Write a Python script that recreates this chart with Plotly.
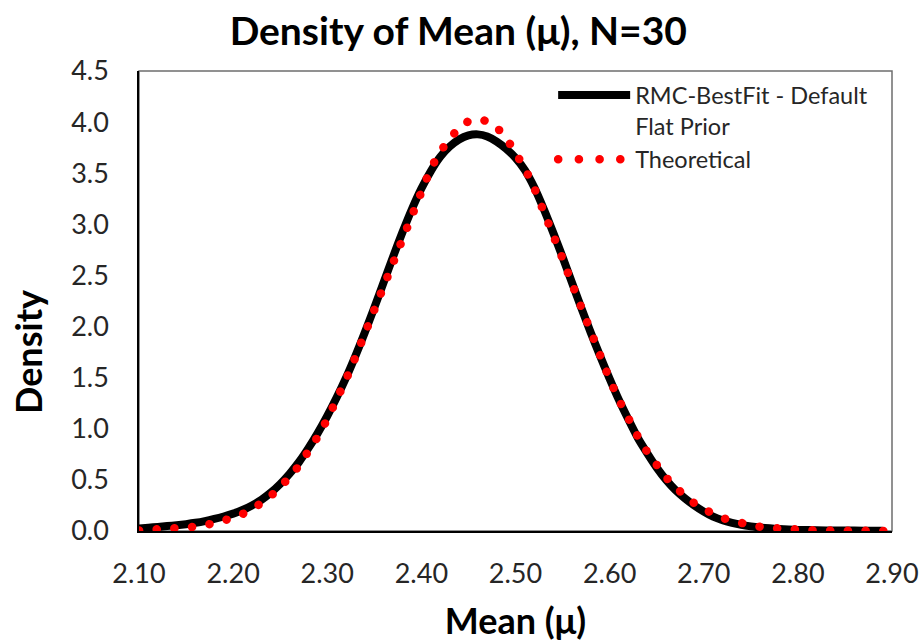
import plotly.graph_objects as go

# Mean values (μ) on the horizontal axis
mean_rmc = [2.10, 2.11, 2.12, 2.13, 2.14, 2.15, 2.16, 2.17, 2.18, 2.19,
            2.20, 2.21, 2.22, 2.23, 2.24, 2.25, 2.26, 2.27, 2.28, 2.29,
            2.30, 2.31, 2.32, 2.33, 2.34, 2.35, 2.36, 2.37, 2.38, 2.39,
            2.40, 2.41, 2.42, 2.43, 2.44, 2.45, 2.46, 2.47, 2.48, 2.49,
            2.50, 2.51, 2.52, 2.53, 2.54, 2.55, 2.56, 2.57, 2.58, 2.59,
            2.60, 2.61, 2.62, 2.63, 2.64, 2.65, 2.66, 2.67, 2.68, 2.69,
            2.70, 2.71, 2.72, 2.73, 2.74, 2.75, 2.76, 2.77, 2.78, 2.79,
            2.80, 2.82, 2.84, 2.86, 2.88, 2.89]

# RMC-BestFit posterior density (default flat prior)
density_rmc = [0.025, 0.032, 0.040, 0.048, 0.057, 0.067, 0.080, 0.097, 0.118, 0.142,
               0.170, 0.205, 0.250, 0.305, 0.375, 0.460, 0.560, 0.675, 0.810, 0.960,
               1.125, 1.305, 1.500, 1.715, 1.945, 2.185, 2.435, 2.685, 2.925, 3.150,
               3.350, 3.520, 3.660, 3.760, 3.830, 3.870, 3.880, 3.860, 3.810, 3.740,
               3.650, 3.530, 3.360, 3.150, 2.920, 2.680, 2.430, 2.180, 1.940, 1.710,
               1.490, 1.280, 1.090, 0.910, 0.760, 0.620, 0.500, 0.400, 0.320, 0.250,
               0.190, 0.140, 0.105, 0.080, 0.060, 0.045, 0.034, 0.026, 0.020, 0.015,
               0.011, 0.007, 0.005, 0.004, 0.003, 0.002]

mean_theory = [2.10, 2.11, 2.12, 2.13, 2.14, 2.15, 2.16, 2.17, 2.18, 2.19,
               2.20, 2.21, 2.22, 2.23, 2.24, 2.25, 2.26, 2.27, 2.28, 2.29,
               2.30, 2.31, 2.32, 2.33, 2.34, 2.35, 2.36, 2.37, 2.38, 2.39,
               2.40, 2.41, 2.42, 2.43, 2.44, 2.45, 2.46, 2.47, 2.48, 2.49,
               2.50, 2.51, 2.52, 2.53, 2.54, 2.55, 2.56, 2.57, 2.58, 2.59,
               2.60, 2.61, 2.62, 2.63, 2.64, 2.65, 2.66, 2.67, 2.68, 2.69,
               2.70, 2.71, 2.72, 2.73, 2.74, 2.75, 2.76, 2.77, 2.78, 2.79,
               2.80, 2.81, 2.82, 2.83, 2.84, 2.85, 2.86, 2.87, 2.88, 2.89, 2.90]

# Theoretical density of the mean
density_theory = [0.005, 0.008, 0.011, 0.016, 0.022, 0.030, 0.041, 0.055, 0.074, 0.098,
                  0.128, 0.166, 0.213, 0.271, 0.341, 0.425, 0.524, 0.639, 0.772, 0.923,
                  1.092, 1.279, 1.483, 1.702, 1.933, 2.174, 2.420, 2.666, 2.907, 3.139,
                  3.354, 3.547, 3.714, 3.849, 3.949, 4.009, 4.030, 4.009, 3.949, 3.849,
                  3.714, 3.547, 3.354, 3.139, 2.907, 2.666, 2.420, 2.174, 1.933, 1.702,
                  1.483, 1.279, 1.092, 0.923, 0.772, 0.639, 0.524, 0.425, 0.341, 0.271,
                  0.213, 0.166, 0.128, 0.098, 0.074, 0.055, 0.041, 0.030, 0.022, 0.016,
                  0.011, 0.008, 0.005, 0.004, 0.003, 0.002, 0.001, 0.001, 0.001, 0.000, 0.000]

x_ticks = [2.10, 2.20, 2.30, 2.40, 2.50, 2.60, 2.70, 2.80, 2.90]
y_ticks = [0.0, 0.5, 1.0, 1.5, 2.0, 2.5, 3.0, 3.5, 4.0, 4.5]

FONT = "Lato"
TEXT = "#262626"

fig = go.Figure()
fig.add_trace(go.Scatter(
    x=mean_rmc, y=density_rmc, mode="lines",
    name="RMC-BestFit - Default<br>Flat Prior",
    line=dict(color="black", width=8, shape="spline", smoothing=0.6),
))
fig.add_trace(go.Scatter(
    x=mean_theory, y=density_theory, mode="lines",
    name="Theoretical",
    line=dict(color="#FF0000", width=8.5, dash="dot"),
))

fig.update_layout(
    width=924, height=642,
    margin=dict(l=139, r=32, t=71, b=111, autoexpand=False),
    paper_bgcolor="white", plot_bgcolor="white",
    title=dict(text="<b>Density of Mean (μ), N=30</b>", x=0.496, xanchor="center",
               y=0.951, yanchor="middle",
               font=dict(family=FONT, size=39, color="black")),
    font=dict(family=FONT, color=TEXT),
    showlegend=True,
    legend=dict(
        xref="paper", yref="paper",
        x=0.550, y=0.995, xanchor="left", yanchor="top",
        bgcolor="rgba(0,0,0,0)", borderwidth=0,
        font=dict(family=FONT, size=23.5, color=TEXT),
        valign="top", itemwidth=72, tracegroupgap=0,
    ),
    xaxis=dict(
        range=[2.10, 2.90], tickvals=x_ticks,
        ticktext=[f"{v:.2f}" for v in x_ticks],
        showgrid=False, zeroline=False, ticks="", tickangle=0,
        showline=True, linecolor="black", linewidth=1.5,
        tickfont=dict(family=FONT, size=27, color=TEXT),
        ticklabelstandoff=18,
        title=dict(text="<b>Mean (μ)</b>", standoff=22,
                   font=dict(family=FONT, size=36, color="black")),
    ),
    yaxis=dict(
        range=[0, 4.5], tickvals=y_ticks,
        ticktext=[f"{v:.1f}" for v in y_ticks],
        showgrid=False, zeroline=False, ticks="",
        showline=True, linecolor="black", linewidth=1.5,
        tickfont=dict(family=FONT, size=27, color=TEXT),
        ticklabelstandoff=23,
    ),
    annotations=[dict(
        text="<b>Density</b>", textangle=-90,
        xref="paper", yref="paper", x=(28 - 139) / 753, y=(531 - 352) / 460,
        xanchor="center", yanchor="middle", showarrow=False,
        font=dict(family=FONT, size=36, color="black"),
    )],
    shapes=[dict(
        type="rect", xref="paper", yref="paper", x0=0, x1=1, y0=0, y1=1,
        line=dict(color="#6e6e6e", width=1.5), layer="below",
    )],
)

# Round the dotted stroke of the theoretical curve (plot and legend)
round_dots = """
var gd = document.getElementById('{plot_id}');
var tr = gd.querySelectorAll('.scatterlayer .trace');
if (tr.length > 1) {
  var p = tr[1].querySelector('path.js-line');
  if (p) { p.style.strokeLinecap = 'round'; p.style.strokeDasharray = '0.1px,17.6px'; }
}
var lg = gd.querySelectorAll('.legend .traces');
if (lg.length > 1) {
  var lp = lg[1].querySelector('path.js-line');
  if (lp) { lp.style.strokeLinecap = 'round'; lp.style.strokeDasharray = '0.1px,20.6px'; }
}
"""

fig.write_html("out.html", post_script=round_dots)
